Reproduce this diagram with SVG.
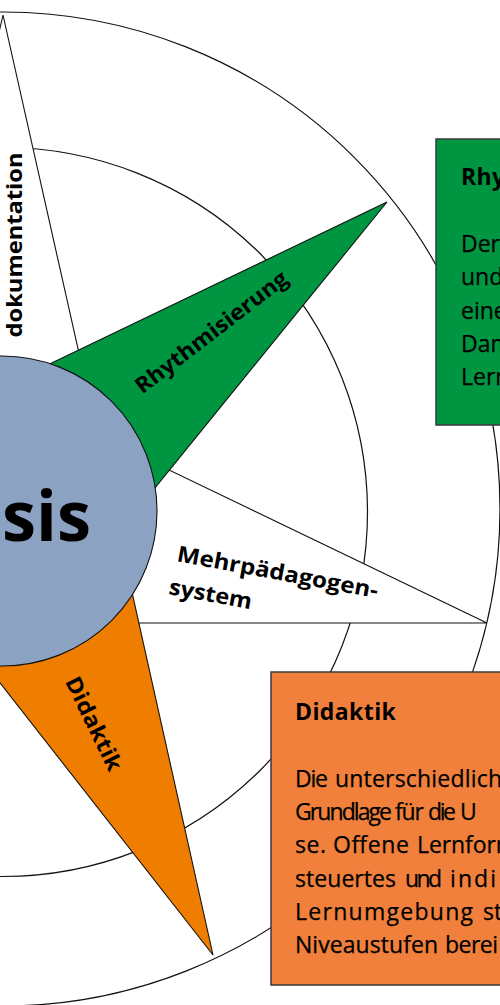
<svg xmlns="http://www.w3.org/2000/svg" width="500" height="1005" viewBox="0 0 500 1005">
<style>
.ring{fill:none;stroke:#111;stroke-width:1.2}
.edge{stroke:#111;stroke-width:1.1;stroke-linejoin:miter}
.lbl{font-family:"Open Sans","Noto Sans","DejaVu Sans",sans-serif;font-weight:700;font-size:22px;fill:#000}
.box{stroke:#3a3a3a;stroke-width:1.5}
.body{font-family:"Open Sans","Noto Sans","DejaVu Sans",sans-serif;font-size:23px;fill:#000;stroke:#000;stroke-width:0.25}
.title{font-family:"Open Sans","Noto Sans","DejaVu Sans",sans-serif;font-size:23px;font-weight:700;letter-spacing:0.4px;fill:#000}
</style>
<rect width="500" height="1005" fill="#fff"/>
<g id="rings">
<circle class="ring" cx="3" cy="509" r="497"/>
<circle class="ring" cx="3" cy="512" r="364.5"/>
</g>
<g id="dokumentation">
<polygon class="edge" fill="#fff" points="3,15 112,500 -108,500"/>
<text class="lbl" transform="translate(22,245) rotate(-90)" text-anchor="middle" textLength="185" lengthAdjust="spacingAndGlyphs">dokumentation</text>
</g>
<g id="mehrpaedagogensystem">
<polygon class="edge" fill="#fff" points="487,623 100,623 2,511 138,455"/>
<text class="lbl" transform="translate(176,561) rotate(10.5)" textLength="204" lengthAdjust="spacingAndGlyphs">Mehrpädagogen-</text>
<text class="lbl" transform="translate(168,594) rotate(10.5)" textLength="84" lengthAdjust="spacingAndGlyphs">system</text>
</g>
<g id="rhythmisierung">
<polygon class="edge" fill="#009540" points="387,202 120,531 2,511 14,381"/>
<text class="lbl" transform="translate(216,338) rotate(-37.5)" text-anchor="middle" textLength="186" lengthAdjust="spacingAndGlyphs">Rhythmisierung</text>
</g>
<g id="didaktik">
<polygon class="edge" fill="#EE7D00" points="213,955 125,561 2,511 -32,642"/>
<text class="lbl" transform="translate(87,727) rotate(64)" text-anchor="middle" textLength="102" lengthAdjust="spacingAndGlyphs">Didaktik</text>
</g>
<g id="basis">
<circle class="edge" fill="#8CA2C2" cx="2" cy="511" r="155"/>
<text x="2" y="541" font-family="'Open Sans','Noto Sans','DejaVu Sans',sans-serif" font-weight="700" font-size="70" fill="#000" textLength="89" lengthAdjust="spacingAndGlyphs">sis</text>
</g>
<g id="box-rhythmisierung">
<rect class="box" x="436" y="139" width="80" height="286" fill="#009540"/>
<text class="title" x="461" y="185">Rhy</text>
<text class="body" x="461" y="252">Der</text>
<text class="body" x="461" y="285.3">und</text>
<text class="body" x="461" y="318.6">eine</text>
<text class="body" x="461" y="352">Dam</text>
<text class="body" x="461" y="385.3">Lern</text>
</g>
<g id="box-didaktik">
<rect class="box" x="271" y="672" width="240" height="313" fill="#F0803C"/>
<text class="title" x="295" y="720">Didaktik</text>
<text class="body" x="295" y="786.7" textLength="33">Die</text>
<text class="body" x="335" y="786.7" textLength="167">unterschiedlich</text>
<text class="body" x="295" y="820" textLength="97">Grundlage</text>
<text class="body" x="395" y="820" textLength="29">für</text>
<text class="body" x="428" y="820" textLength="28">die</text>
<text class="body" x="460" y="820">U</text>
<text class="body" x="295" y="853.3" textLength="31">se.</text>
<text class="body" x="333" y="853.3" textLength="76">Offene</text>
<text class="body" x="417" y="853.3" textLength="100">Lernform</text>
<text class="body" x="295" y="886.7" textLength="101">steuertes</text>
<text class="body" x="405" y="886.7" textLength="37">und</text>
<text class="body" x="450" y="886.7" textLength="46">indi</text>
<text class="body" x="295" y="920" textLength="178">Lernumgebung</text>
<text class="body" x="483" y="920">st</text>
<text class="body" x="295" y="953.3" textLength="143">Niveaustufen</text>
<text class="body" x="445" y="953.3" textLength="53">berei</text>
</g>
</svg>
